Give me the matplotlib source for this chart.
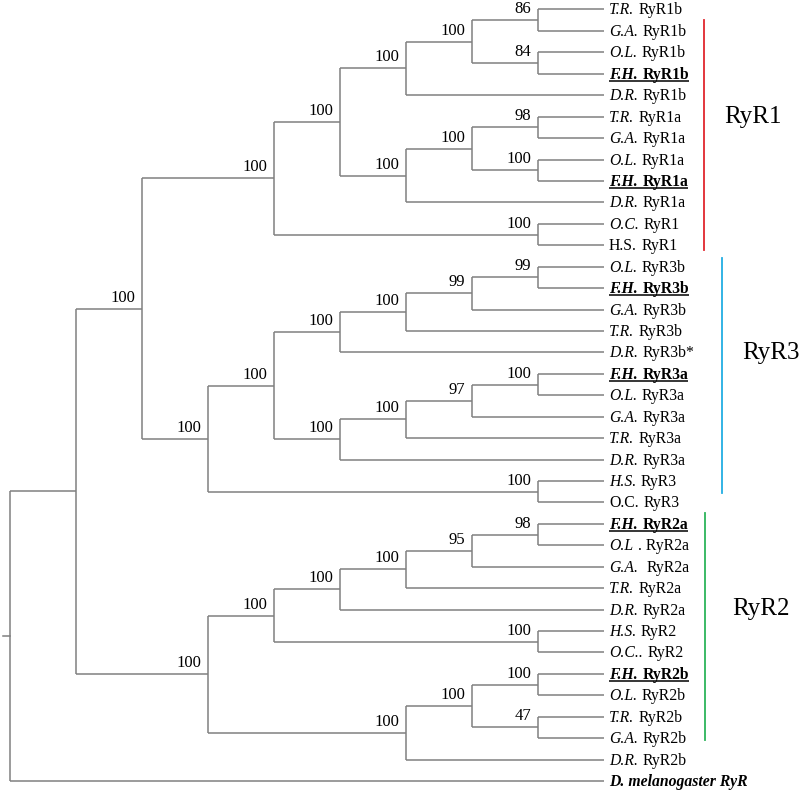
"""
RyR phylogeny (cladogram) redrawn with matplotlib.
Leaves are aligned on the right, node depth = height of subtree.
"""
import matplotlib
matplotlib.use("Agg")
import matplotlib.pyplot as plt

# ── data ──────────────────────────────────────────────────────────
SPECIES = ["T.R.", "G.A.", "O.L.", "F.H.", "D.R.",
           "T.R.", "G.A.", "O.L.", "F.H.", "D.R.",
           "O.C.", "H.S.",
           "O.L.", "F.H.", "G.A.", "T.R.", "D.R.",
           "F.H.", "O.L.", "G.A.", "T.R.", "D.R.",
           "H.S.", "O.C.",
           "F.H.", "O.L", "G.A.", "T.R.", "D.R.",
           "H.S.", "O.C..",
           "F.H.", "O.L.", "T.R.", "G.A.", "D.R.",
           "D. melanogaster"]
GENES = (["RyR1b"] * 5 + ["RyR1a"] * 5 + ["RyR1", "RyR1"]
         + ["RyR3b"] * 4 + ["RyR3b*"] + ["RyR3a"] * 5 + ["RyR3", "RyR3"]
         + ["RyR2a"] * 5 + ["RyR2", "RyR2"] + ["RyR2b"] * 5 + ["RyR"])
GENES[25] = ". RyR2a"                # odd punctuation as in the original figure
WIDE_GAP = {26}                      # double space after the species
UPRIGHT = {11, 23}                   # species abbreviations not in italics
HIGHLIGHT = {3, 8, 13, 17, 24, 31}   # F.H. sequences: bold + underlined
OUTGROUP = 36

# topology with bootstrap support, leaves are indices into SPECIES
TREE = ("((("
        "(((((0,1)86,(2,3)84)100,4)100,(((5,6)98,(7,8)100)100,9)100)100,(10,11)100)100,"
        "((((((12,13)99,14)99,15)100,16)100,((((17,18)100,19)97,20)100,21)100)100,(22,23)100)100"
        ")100,"
        "((((((24,25)98,26)95,27)100,28)100,(29,30)100)100,(((31,32)100,(33,34)47)100,35)100)100"
        "),36);")

GROUP_NAMES = ["RyR1", "RyR3", "RyR2"]

# ── styling / layout ───────────────────────────────────────────────
LINE = "#808080"
SERIF = "Liberation Serif"
GROUP_COLORS = ["#e1262d", "#22aee3", "#2cb45a"]
BAR_X = [10.52, 10.79, 10.53]                  # in depth units
BAR_Y = [(0.49, 11.22), (11.6, 22.56), (23.5, 34.1)]
LABEL_XY = [(10.82, 5.30), (11.10, 16.31), (10.94, 28.25)]
FS_LEAF = 11.3


def parse(s, i=0):
    if s[i] == "(":
        kids = []
        i += 1
        while True:
            child, i = parse(s, i)
            kids.append(child)
            if s[i] == ",":
                i += 1
                continue
            i += 1  # ')'
            break
        j = i
        while s[i].isdigit():
            i += 1
        return {"kids": kids, "sup": s[j:i] or None}, i
    j = i
    while s[i].isdigit():
        i += 1
    return {"leaf": int(s[j:i])}, i


def layout(node):
    if "leaf" in node:
        node["h"], node["y"] = 0, node["leaf"]
        return
    for k in node["kids"]:
        layout(k)
    node["h"] = 1 + max(k["h"] for k in node["kids"])
    node["y"] = (node["kids"][0]["y"] + node["kids"][-1]["y"]) / 2


root, _ = parse(TREE)
layout(root)
TOP = root["h"]

fig = plt.figure(figsize=(8, 7.9), dpi=100)
ax = fig.add_axes([0, 0, 1, 1])
ax.set_xlim(-0.1515, 11.97)
ax.set_ylim(36.42, -0.443)
ax.axis("off")


def draw(node):
    x = TOP - node["h"]
    if "leaf" in node:
        return
    ys = [k["y"] for k in node["kids"]]
    ax.plot([x, x], [min(ys), max(ys)], color=LINE, lw=1.1, solid_capstyle="butt")
    for k in node["kids"]:
        kx = TOP - k["h"]
        ax.plot([x, kx], [k["y"], k["y"]], color=LINE, lw=1.1, solid_capstyle="butt")
        if k.get("sup"):
            ax.annotate(k["sup"], (kx, k["y"]), xytext=(-7, 7),
                        textcoords="offset pixels", ha="right", va="baseline",
                        fontsize=12, family=SERIF)
        draw(k)


draw(root)
# short stub on the root
ax.plot([-0.1, 0], [root["y"]] * 2, color=LINE, lw=1.1)

# leaf labels: species abbreviation (italic) followed by gene name
ends = {}
for i, (sp, gene) in enumerate(zip(SPECIES, GENES)):
    if i == OUTGROUP:
        t = ax.annotate(f"{sp} {gene}", (TOP, i), xytext=(5, -5), textcoords="offset pixels",
                        ha="left", va="baseline", fontsize=FS_LEAF, family=SERIF,
                        fontweight="bold", fontstyle="italic")
        continue
    weight = "bold" if i in HIGHLIGHT else "normal"
    style = "normal" if i in UPRIGHT else "italic"
    t1 = ax.annotate(sp, (TOP, i), xytext=(5, -5), textcoords="offset pixels",
                     ha="left", va="baseline", fontsize=FS_LEAF, family=SERIF,
                     fontweight=weight, fontstyle=style)
    gap = 9 if i in WIDE_GAP else 4.5
    t2 = ax.annotate(gene, (1, 0), xycoords=t1, xytext=(gap, 0), textcoords="offset pixels",
                     ha="left", va="bottom", fontsize=FS_LEAF, family=SERIF,
                     fontweight=weight)
    if i in HIGHLIGHT:
        ends[i] = (t1, t2)

# underline highlighted labels
fig.canvas.draw()
inv = ax.transData.inverted()
for i, (t1, t2) in ends.items():
    x0 = inv.transform((t1.get_window_extent().x0, 0))[0]
    x1 = inv.transform((t2.get_window_extent().x1, 0))[0]
    yy = i + 6.8 / 21.43
    ax.plot([x0, x1], [yy, yy], color="black", lw=1.1, solid_capstyle="butt")

# clade bars
for name, c, bx, (y0, y1), (lx, ly) in zip(GROUP_NAMES, GROUP_COLORS, BAR_X, BAR_Y, LABEL_XY):
    ax.plot([bx, bx], [y0, y1], color=c, lw=1.3)
    ax.text(lx, ly, name, fontsize=18, family=SERIF, ha="left", va="baseline")

fig.savefig("out.png", dpi=100, facecolor="white")
